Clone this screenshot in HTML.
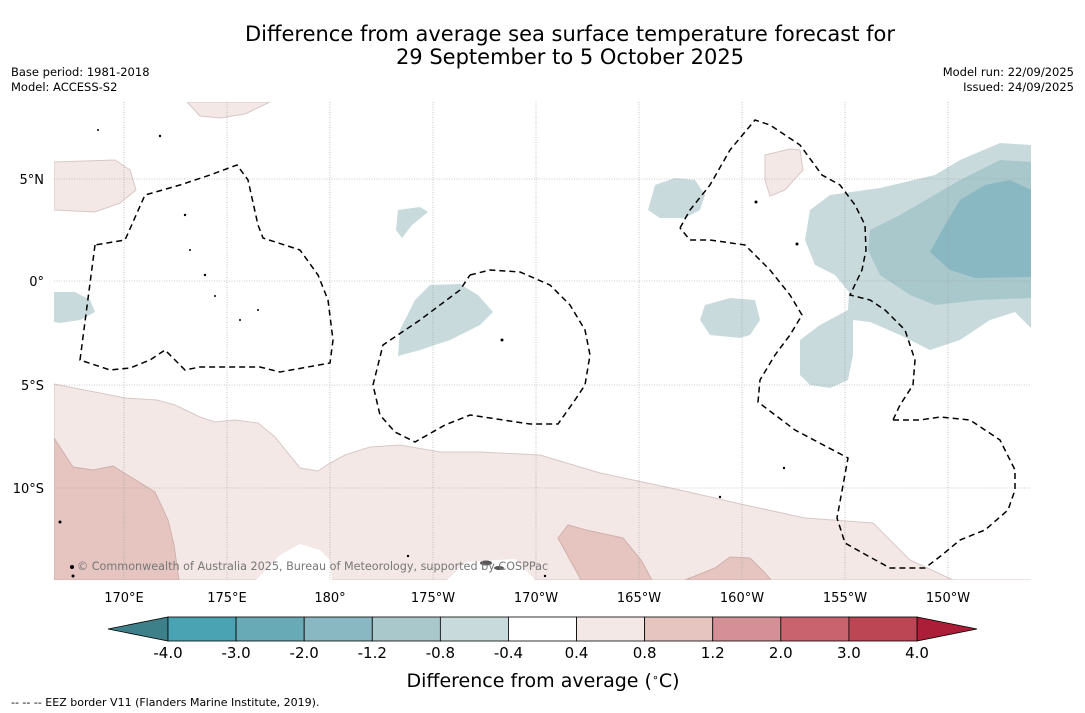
<!DOCTYPE html>
<html><head><meta charset="utf-8"><style>
body{margin:0;background:#fff;width:1085px;height:713px;overflow:hidden;font-family:"DejaVu Sans","Liberation Sans",sans-serif}
svg{display:block}
</style></head><body>
<svg width="1085" height="713" viewBox="0 0 1085 713" xmlns="http://www.w3.org/2000/svg">
<text x="570" y="41" font-size="21" text-anchor="middle">Difference from average sea surface temperature forecast for</text>
<text x="570" y="64" font-size="21" text-anchor="middle">29 September to 5 October 2025</text>
<text x="11" y="76" font-size="11.5">Base period: 1981-2018</text>
<text x="11" y="91" font-size="11.5">Model: ACCESS-S2</text>
<text x="1074" y="76" font-size="11.5" text-anchor="end">Model run: 22/09/2025</text>
<text x="1074" y="91" font-size="11.5" text-anchor="end">Issued: 24/09/2025</text>
<defs><clipPath id="mc"><rect x="54" y="102" width="977" height="478"/></clipPath></defs>
<g clip-path="url(#mc)">
<g stroke="#d8c8c6" stroke-width="1">
<polygon fill="#f4e8e6" points="187,102 270,102 245,114 220,118 200,116"/>
<polygon fill="#f4e8e6" points="54,162 115,160 130,170 136,190 120,203 95,212 54,210"/>
<polygon fill="#f4e8e6" points="765,155 790,149 800,150 803,170 785,190 770,196 765,180"/>
<polygon fill="#f4e8e6" points="54,384 125,398 157,400 175,405 200,417 215,422 235,420 258,423 275,437 300,468 318,471 330,463 345,455 370,447 400,445 440,452 480,452 540,455 600,473 680,490 745,505 805,518 873,523 910,560 953,580 1031,580 54,580"/>
</g>
<polygon fill="#fff" points="256,580 280,555 300,544 320,550 330,560 332,580"/>
<polygon fill="#fff" points="447,580 466,562 515,559 535,580"/>
<g stroke="#d0b0ac" stroke-width="1" fill="#e6c5c0">
<polygon points="54,438 73,467 93,470 113,466 155,492 168,520 174,545 179,580 54,580"/>
<polygon points="558,538 568,525 586,530 623,538 641,560 652,580 581,580"/>
<polygon points="685,580 715,568 730,557 750,558 765,573 771,580"/>
</g>
<g fill="#c8dadc">
<polygon points="54,292 75,292 90,300 95,312 80,320 60,323 54,322"/>
<polygon points="398,210 420,207 428,212 412,225 402,238 396,230"/>
<polygon points="400,330 415,300 430,285 460,284 478,295 493,312 480,325 450,340 420,350 398,356"/>
<polygon points="655,185 675,178 695,180 705,195 700,210 685,218 660,218 648,210"/>
<polygon points="705,305 730,298 755,300 760,320 750,335 740,338 710,335 700,320"/>
<polygon points="1031,145 1000,143 960,160 935,175 880,188 830,195 810,210 805,240 815,265 835,275 849,292 848,310 820,325 800,340 800,375 810,385 830,388 848,380 853,355 853,320 870,322 900,335 930,350 960,340 990,320 1015,312 1031,328"/>
</g>
<polygon fill="#a9c8cc" points="1031,162 1000,160 960,180 900,215 870,230 868,250 880,275 910,295 935,305 980,300 1031,298"/>
<polygon fill="#8ab8c2" points="1031,190 1010,180 985,185 960,200 945,225 930,252 950,270 975,278 1031,277"/>
<g stroke="#999" stroke-width="0.6" stroke-dasharray="1,1.5">
<line x1="124" y1="102" x2="124" y2="580"/><line x1="227" y1="102" x2="227" y2="580"/><line x1="330" y1="102" x2="330" y2="580"/><line x1="433" y1="102" x2="433" y2="580"/><line x1="536" y1="102" x2="536" y2="580"/><line x1="639" y1="102" x2="639" y2="580"/><line x1="742" y1="102" x2="742" y2="580"/><line x1="845" y1="102" x2="845" y2="580"/><line x1="948" y1="102" x2="948" y2="580"/>
<line x1="54" y1="179" x2="1031" y2="179"/><line x1="54" y1="281" x2="1031" y2="281"/><line x1="54" y1="385" x2="1031" y2="385"/><line x1="54" y1="488" x2="1031" y2="488"/>
</g>
<g fill="none" stroke="#000" stroke-width="1.5" stroke-dasharray="6,4">
<polyline points="95,245 80,360 110,370 130,368 150,360 165,350 185,370 200,367 260,367 280,372 330,363 333,340 328,300 318,275 300,250 263,238 258,225 248,180 237,165 210,175 180,185 145,195 125,240 95,245"/>
<polyline points="470,275 490,270 520,272 550,285 570,305 585,330 590,355 585,385 575,400 558,424 530,424 470,415 445,425 415,442 395,432 380,415 373,385 383,345 420,320 460,290 470,275"/>
<polyline points="680,228 690,210 710,185 730,150 755,120 770,125 800,145 822,175 840,185 855,205 865,225 866,250 862,270 850,295 870,300 885,310 905,330 915,360 913,385 900,405 893,420"/>
<polyline points="893,420 920,420 940,417 970,420 1000,440 1015,470 1015,490 1008,510 985,530 960,540 942,555 925,568 890,568 868,556 845,543 837,518 848,458 795,430 758,402 760,380 775,355 790,335 802,315 790,295 770,270 745,245 710,240 690,240 680,228"/>
</g>
<g fill="#000">
<circle cx="98" cy="130" r="1"/><circle cx="160" cy="136" r="1.2"/><circle cx="185" cy="215" r="1.2"/><circle cx="190" cy="250" r="1"/><circle cx="205" cy="275" r="1.2"/><circle cx="215" cy="296" r="1"/><circle cx="240" cy="320" r="1"/><circle cx="258" cy="310" r="1"/><circle cx="502" cy="340" r="1.5"/><circle cx="756" cy="202" r="1.5"/><circle cx="797" cy="244" r="1.5"/><circle cx="784" cy="468" r="1.2"/><circle cx="720" cy="497" r="1.2"/><circle cx="60" cy="522" r="1.5"/><circle cx="72" cy="567" r="2"/><circle cx="73" cy="576" r="1.5"/><circle cx="408" cy="556" r="1.2"/><circle cx="545" cy="576" r="1.2"/>
<ellipse cx="486" cy="563" rx="6" ry="2.5" fill="#555"/><ellipse cx="499" cy="568" rx="5" ry="2" fill="#555"/>
</g>
<text x="77" y="570" font-size="11.2" fill="#777">© Commonwealth of Australia 2025, Bureau of Meteorology, supported by COSPPac</text>
</g>
<g font-size="13" text-anchor="end">
<text x="44" y="184">5°N</text><text x="44" y="286">0°</text><text x="44" y="390">5°S</text><text x="44" y="493">10°S</text>
</g>
<g font-size="13" text-anchor="middle">
<text x="124" y="602">170°E</text><text x="227" y="602">175°E</text><text x="330" y="602">180°</text><text x="433" y="602">175°W</text><text x="536" y="602">170°W</text><text x="639" y="602">165°W</text><text x="742" y="602">160°W</text><text x="845" y="602">155°W</text><text x="948" y="602">150°W</text>
</g>
<g id="cbar"></g>
<text x="543" y="687" font-size="19" text-anchor="middle">Difference from average (<tspan font-size="11" dy="-6">∘</tspan><tspan dy="6">C)</tspan></text>
<text x="11" y="706" font-size="11">--  --  -- EEZ border V11 (Flanders Marine Institute, 2019).</text>
</svg>
<script>
const boundaries = ["-4.0","-3.0","-2.0","-1.2","-0.8","-0.4","0.4","0.8","1.2","2.0","3.0","4.0"];
const binColors = ["#4aa3b2","#68aab6","#89b8c3","#a9c8cc","#c8dadc","#ffffff","#f4e8e6","#e6c5c0","#d58f96","#c9646f","#bd4654"];
const underColor = "#3d8089";
const overColor = "#ac1e38";
const ns = "http://www.w3.org/2000/svg";
const g = document.getElementById('cbar');
const x0 = 168, x1 = 917, y0 = 617, h = 24;
const w = (x1 - x0) / binColors.length;
function mk(tag, attrs){const e=document.createElementNS(ns,tag);for(const k in attrs)e.setAttribute(k,attrs[k]);g.appendChild(e);return e;}
const lt = mk('polygon',{points:`${x0},${y0} ${x0},${y0+h} 108,${y0+h/2}`,fill:underColor,stroke:'#000','stroke-width':0.8});


const rt = mk('polygon',{points:`${x1},${y0} ${x1},${y0+h} 977,${y0+h/2}`,fill:overColor,stroke:'#000','stroke-width':0.8});


binColors.forEach((c,i)=>{
  const r = mk('rect',{x:x0+i*w,y:y0,width:w,height:h,fill:c,stroke:'#000','stroke-width':0.8});
  
  
});
boundaries.forEach((b,i)=>{
  const t = mk('text',{x:x0+i*w,y:658,'font-size':15,'text-anchor':'middle'});
  t.textContent = b;
  
  
});
</script>
</body></html>
